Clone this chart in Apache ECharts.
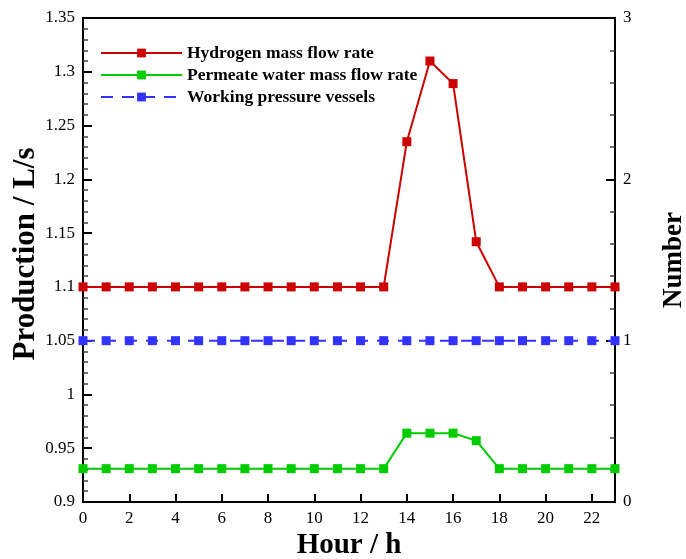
<!DOCTYPE html>
<html><head><meta charset="utf-8">
<script src="https://cdn.jsdelivr.net/npm/echarts@6/dist/echarts.min.js"></script>
<style>html,body{margin:0;padding:0;background:#fff}#c{width:686px;height:559px}</style>
</head><body><div id="c"></div>
<script>
const hours = [0,1,2,3,4,5,6,7,8,9,10,11,12,13,14,15,16,17,18,19,20,21,22,23];
const hydrogen = [1.1,1.1,1.1,1.1,1.1,1.1,1.1,1.1,1.1,1.1,1.1,1.1,1.1,1.1,1.235,1.31,1.289,1.142,1.1,1.1,1.1,1.1,1.1,1.1];
const permeate = [0.931,0.931,0.931,0.931,0.931,0.931,0.931,0.931,0.931,0.931,0.931,0.931,0.931,0.931,0.964,0.964,0.964,0.957,0.931,0.931,0.931,0.931,0.931,0.931];
const vessels = [1,1,1,1,1,1,1,1,1,1,1,1,1,1,1,1,1,1,1,1,1,1,1,1];
const names = ['Hydrogen mass flow rate','Permeate water mass flow rate','Working pressure vessels'];

const serif = 'Liberation Serif';
const chart = echarts.init(document.getElementById('c'));
chart.setOption({
  animation:false,
  backgroundColor:'#fff',
  grid:{left:83,right:71,top:18,bottom:57,outerBoundsMode:'none',containLabel:false,show:true,borderColor:'#000',borderWidth:2,backgroundColor:'transparent'},
  legend:{
    left:95, top:39, orient:'vertical', itemWidth:81, itemHeight:11, itemGap:4,
    textStyle:{fontFamily:serif,fontWeight:'bold',fontSize:17.5,color:'#000'},
    data:names
  },
  xAxis:{
    type:'category', data:hours.map(String), boundaryGap:false,
    name:'Hour / h', nameLocation:'middle', nameGap:29, nameMoveOverlap:false,
    nameTextStyle:{fontFamily:serif,fontWeight:'bold',fontSize:29,color:'#000'},
    axisLine:{lineStyle:{color:'#000',width:2}},
    axisTick:{inside:true,length:8,interval:1,lineStyle:{color:'#000',width:2}},
    axisLabel:{interval:1,fontFamily:serif,fontSize:17,color:'#000',margin:8},
    splitLine:{show:false}
  },
  yAxis:[{
    type:'value', min:0.9, max:1.35, interval:0.05,
    name:'Production / L/s', nameLocation:'middle', nameGap:42, nameMoveOverlap:false,
    nameTextStyle:{fontFamily:serif,fontWeight:'bold',fontSize:31,color:'#000',padding:[0,0,0,12]},
    axisLine:{show:true,lineStyle:{color:'#000',width:2}},
    axisTick:{show:true,inside:true,length:9,lineStyle:{color:'#000',width:2}},
    minorTick:{show:true,splitNumber:5,length:5,lineStyle:{color:'#444',width:1.5}},
    axisLabel:{fontFamily:serif,fontSize:17,color:'#000',margin:8},
    splitLine:{show:false}
  },{
    type:'value', min:0, max:3, interval:1, position:'right',
    name:'Number', nameLocation:'middle', nameGap:46, nameMoveOverlap:false,
    nameTextStyle:{fontFamily:serif,fontWeight:'bold',fontSize:27,color:'#000'},
    axisLine:{show:true,lineStyle:{color:'#000',width:2}},
    axisTick:{show:true,inside:true,length:9,lineStyle:{color:'#000',width:2}},
    minorTick:{show:true,splitNumber:5,length:5,lineStyle:{color:'#444',width:1.5}},
    axisLabel:{fontFamily:serif,fontSize:17,color:'#000',margin:8},
    splitLine:{show:false}
  }],
  series:[{
    name:names[0], type:'line', data:hydrogen, yAxisIndex:0,
    symbol:'rect', symbolSize:9, showAllSymbol:true,
    lineStyle:{color:'#cc0000',width:2}, itemStyle:{color:'#cc0000'}
  },{
    name:names[1], type:'line', data:permeate, yAxisIndex:0,
    symbol:'rect', symbolSize:9, showAllSymbol:true,
    lineStyle:{color:'#00cc00',width:2}, itemStyle:{color:'#00cc00'}
  },{
    name:names[2], type:'line', data:vessels, yAxisIndex:1,
    symbol:'rect', symbolSize:9, showAllSymbol:true,
    lineStyle:{color:'#3333ff',width:2,type:[12,9]}, itemStyle:{color:'#3333ff'}
  }]
});
</script></body></html>
